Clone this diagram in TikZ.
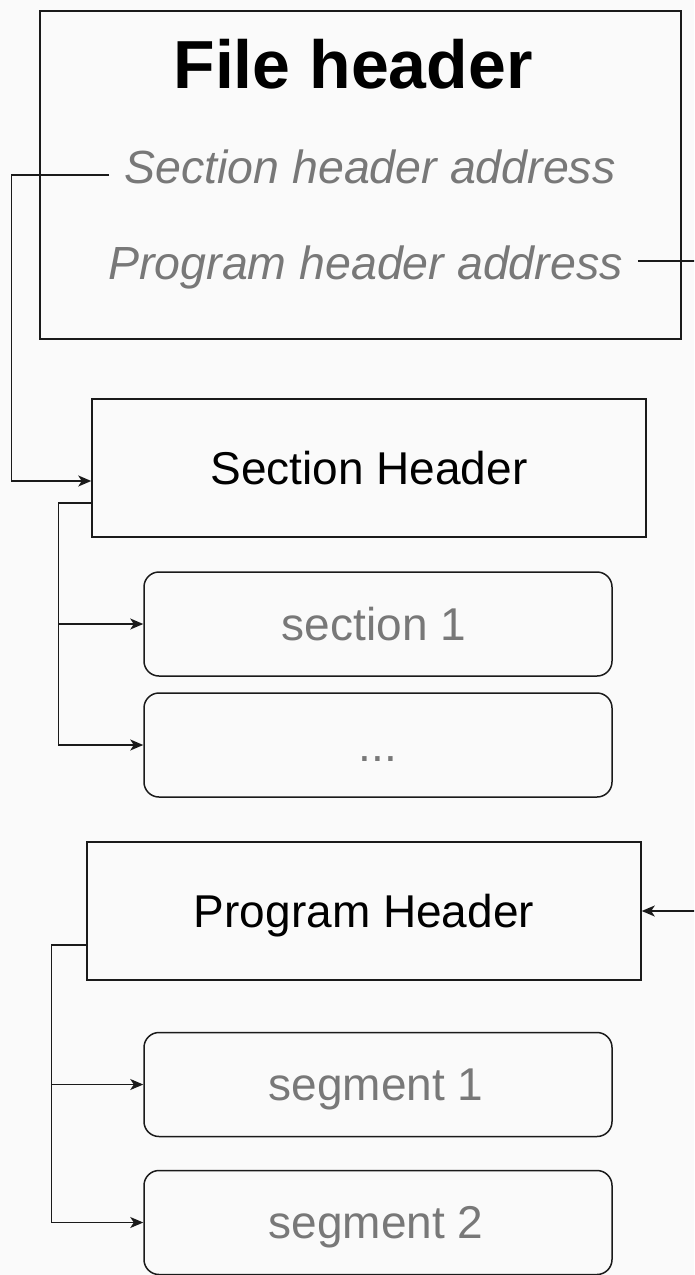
\documentclass[tikz,border=0pt]{standalone}
\usepackage{fontspec}
\setmainfont{Liberation Sans}
\usetikzlibrary{arrows.meta}
\definecolor{bg}{HTML}{FAFAFA}
\definecolor{txtgray}{HTML}{787878}
\definecolor{ln}{HTML}{1A1A1A}
\begin{document}
\begin{tikzpicture}[x=1pt,y=-1pt,
  box/.style={draw=ln,line width=1.5pt,rectangle,inner sep=0pt,font=\fontsize{46}{55}\selectfont,text=black,text height=32pt,text depth=0pt,minimum width=554pt,minimum height=138pt},
  rbox/.style={box,rounded corners=15pt,text=txtgray,minimum width=468pt,minimum height=104pt},
  addr/.style={font=\fontsize{46.5}{55}\selectfont\itshape,text=txtgray,inner xsep=15pt,inner ysep=0pt,anchor=base},
  conn/.style={draw=ln,line width=1.5pt},
  arr/.style={conn,-{Stealth[length=13pt,width=11pt,inset=3.5pt]}}]
\fill[bg] (0,0) rectangle (694,1275);
\useasboundingbox (0,0) rectangle (694,1275);
\clip (0,0) rectangle (694,1275);
% file header
\node[box,minimum width=641pt,minimum height=328pt] (fh) at (360.5,175) {};
\node[font=\fontsize{68}{80}\selectfont\bfseries,anchor=base,inner sep=0pt] (title) at (353,88) {File header};
\node[addr] (sha) at (370,183) {Section header address};
\node[addr] (pha) at (365.5,279) {Program header address};
% section part
\node[box] (sh) at (369,468) {Section Header};
\node[rbox] (s1) at (378,624) {\hspace*{-8pt}section 1};
\node[rbox] (s2) at (378,745) {...};
% program part
\node[box] (ph) at (364,911) {Program Header};
\node[rbox] (g1) at (378,1084.5) {\hspace*{-4pt}segment 1};
\node[rbox] (g2) at (378,1222.5) {\hspace*{-4pt}segment 2};
% connectors
\draw[arr] ([yshift=8pt]sha.base west) -| ([xshift=-80pt,yshift=-13pt]sh.west) -- ([yshift=-13pt]sh.west);
\draw[arr] ([yshift=-35pt]sh.west) -- ++(-33,0) |- (s1.west);
\draw[arr] ([yshift=-35pt]sh.west) -- ++(-33,0) |- (s2.west);
\draw[arr] ([yshift=-34pt]ph.west) -- ++(-35,0) |- (g1.west);
\draw[arr] ([yshift=-34pt]ph.west) -- ++(-35,0) |- (g2.west);
\draw[arr] ([yshift=18pt]pha.base east) -- (730,261) |- (ph.east);
\end{tikzpicture}
\end{document}
